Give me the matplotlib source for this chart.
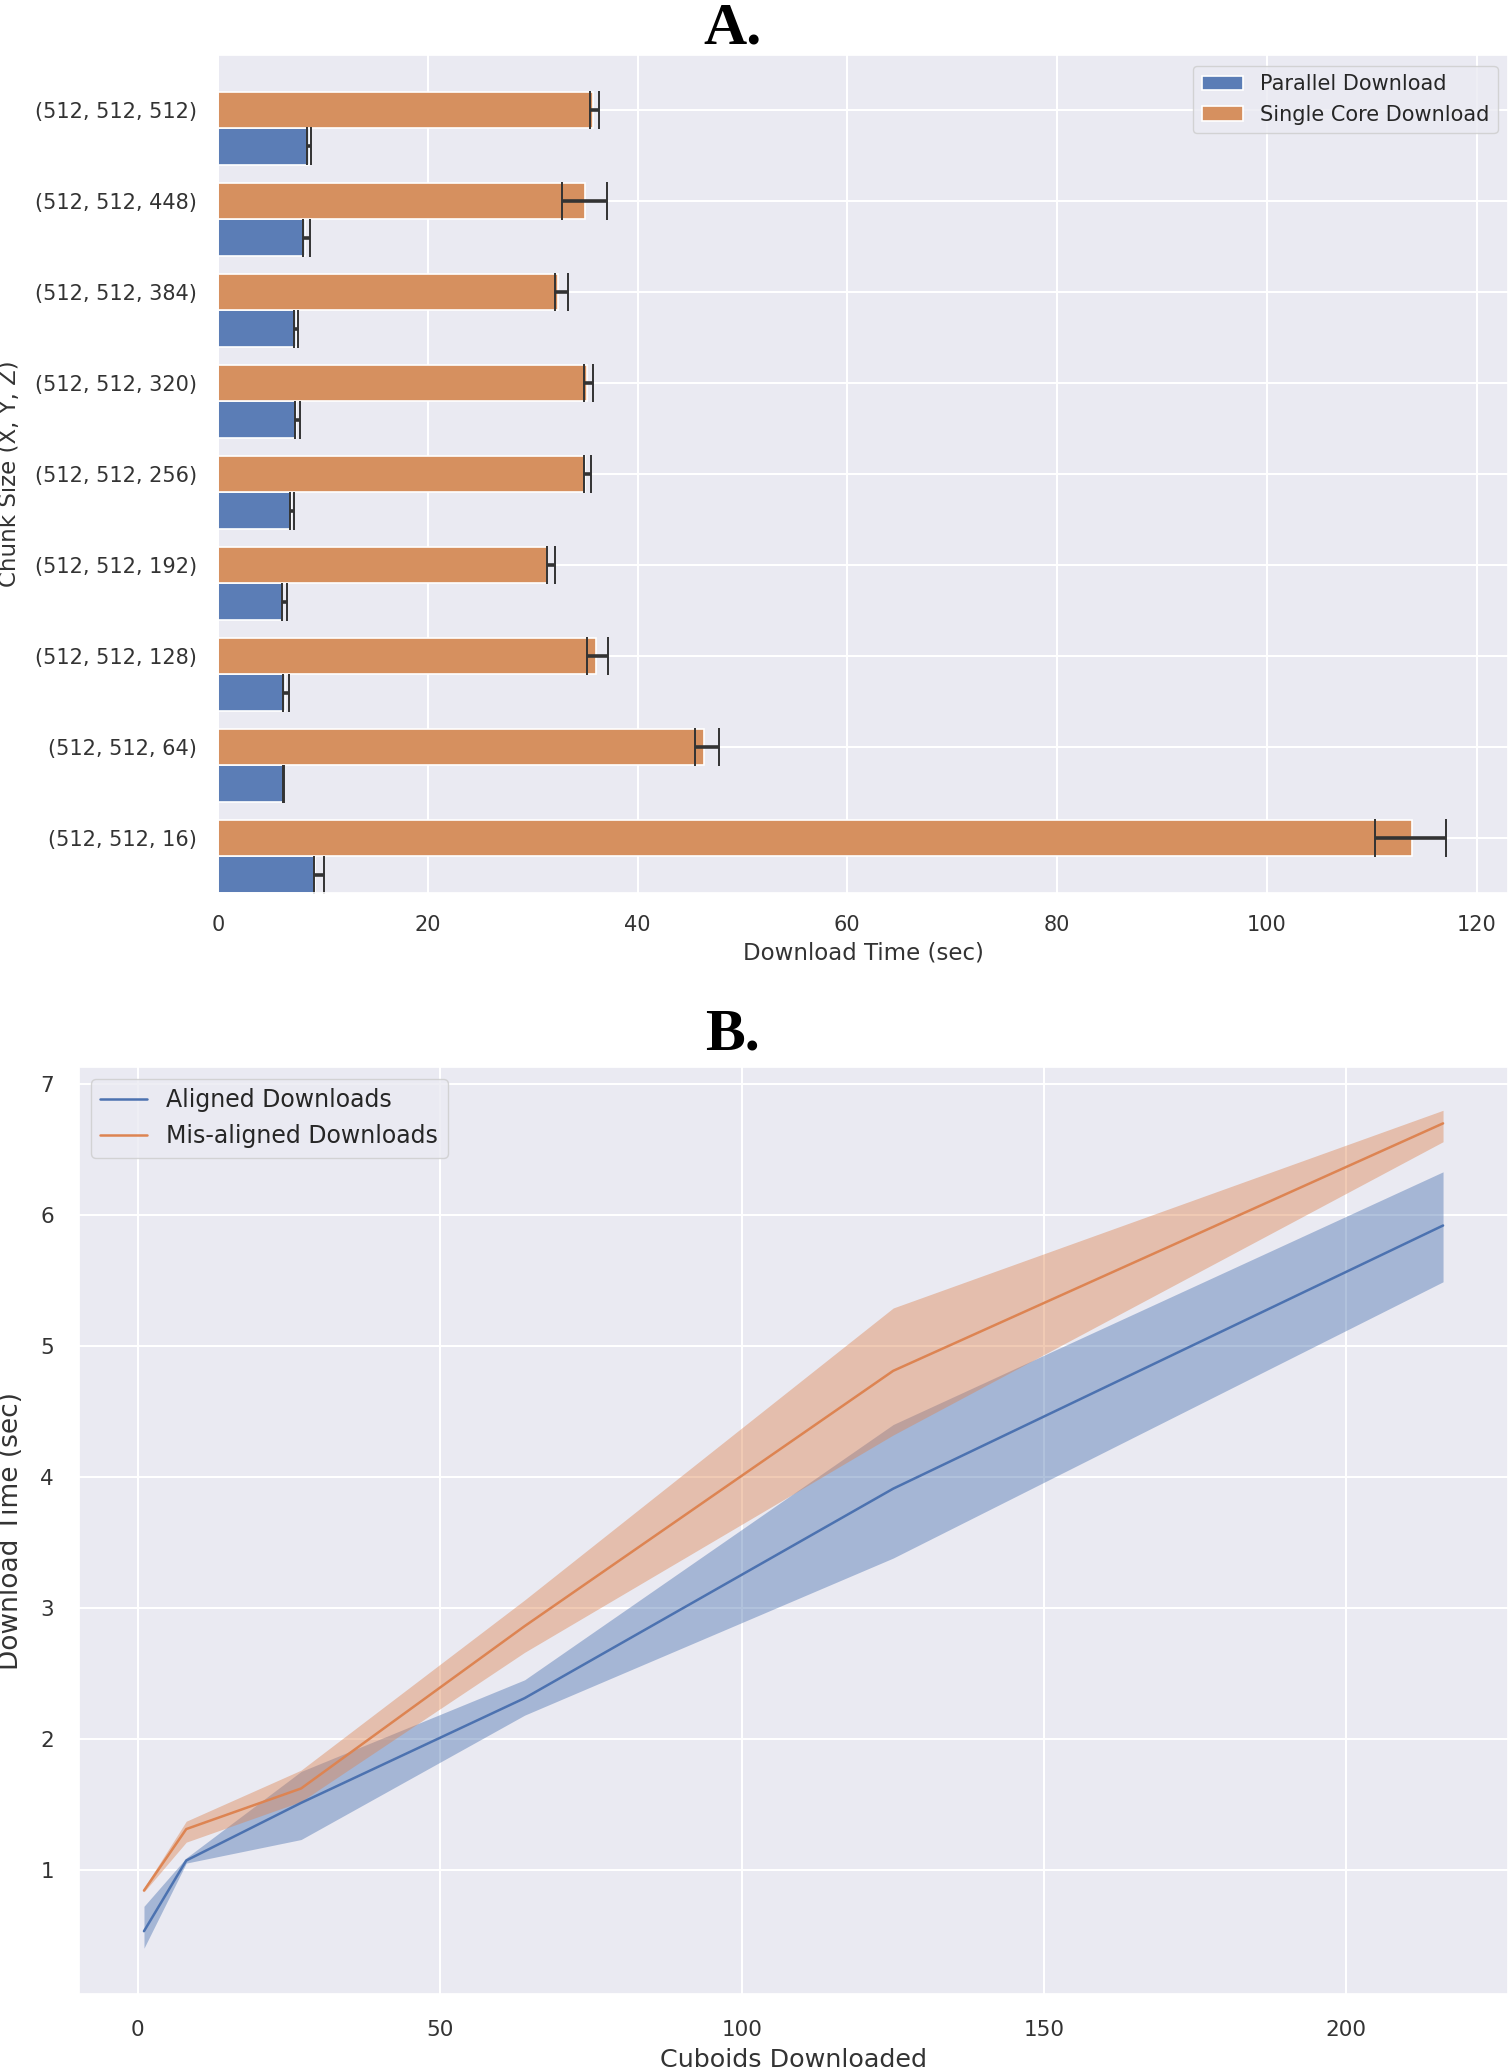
import matplotlib
matplotlib.use("Agg")
import matplotlib.pyplot as plt
import numpy as np
import seaborn as sns

# Panel A : temps de téléchargement par taille de chunk
chunk_labels = ["(512, 512, 512)", "(512, 512, 448)", "(512, 512, 384)",
                "(512, 512, 320)", "(512, 512, 256)", "(512, 512, 192)",
                "(512, 512, 128)", "(512, 512, 64)", "(512, 512, 16)"]
parallel_time = [8.70, 8.33, 7.40, 7.44, 6.98, 6.14, 6.37, 6.28, 9.26]
parallel_lo = [8.51, 8.14, 7.26, 7.35, 6.84, 6.05, 6.23, 6.19, 9.16]
parallel_hi = [8.84, 8.74, 7.63, 7.81, 7.26, 6.60, 6.74, 6.33, 10.09]
single_time = [35.77, 34.98, 32.42, 35.21, 34.98, 31.40, 36.05, 46.37, 113.8]
single_lo = [35.44, 32.79, 32.09, 34.88, 34.88, 31.35, 35.21, 45.44, 110.3]
single_hi = [36.37, 37.07, 33.40, 35.77, 35.58, 32.09, 37.21, 47.81, 117.1]

# Panel B : cuboides alignés / mal alignés
cuboids = [1, 8, 27, 64, 125, 216]
aligned_mean = [0.53, 1.07, 1.51, 2.31, 3.91, 5.92]
aligned_lo = [0.40, 1.05, 1.23, 2.18, 3.38, 5.49]
aligned_hi = [0.72, 1.09, 1.75, 2.45, 4.40, 6.33]
misaligned_mean = [0.84, 1.31, 1.62, 2.86, 4.81, 6.70]
misaligned_lo = [0.83, 1.21, 1.52, 2.66, 4.32, 6.56]
misaligned_hi = [0.86, 1.37, 1.76, 3.06, 5.29, 6.80]

sns.set_theme(style="darkgrid")
plt.rcParams["font.family"] = ["DejaVu Sans"]

BLUE = "#4C72B0"
ORANGE = "#DD8452"
TXT = "#333333"

fig = plt.figure(figsize=(15.08, 20.7), dpi=100)

# ---------- A ----------
axA = fig.add_axes([0.1446, 0.5687, 0.8554, 0.4045])
pos = np.arange(len(chunk_labels))
bar_h = 0.4

par = np.array(parallel_time)
sin = np.array(single_time)
axA.barh(pos + bar_h, par, height=bar_h, color="#5b7db6",
         edgecolor="white", linewidth=1.2, label="Parallel Download")
axA.barh(pos, sin, height=bar_h, color="#d6905f",
         edgecolor="white", linewidth=1.2, label="Single Core Download")

axA.errorbar(par, pos + bar_h,
             xerr=[par - np.array(parallel_lo), np.array(parallel_hi) - par],
             fmt="none", ecolor="#333333", elinewidth=2.6, capsize=14, capthick=1.4)
axA.errorbar(sin, pos,
             xerr=[sin - np.array(single_lo), np.array(single_hi) - sin],
             fmt="none", ecolor="#333333", elinewidth=2.6, capsize=14, capthick=1.4)

axA.set_xlim(0, 123)
axA.set_ylim(8.6, -0.6)
axA.set_yticks(pos)
axA.set_yticklabels(chunk_labels)
axA.set_xticks([0, 20, 40, 60, 80, 100, 120])
axA.tick_params(axis="both", labelsize=15, colors=TXT)
axA.tick_params(axis="y", pad=9)
axA.tick_params(axis="x", pad=10)
axA.grid(True, color="white", linewidth=1.5)
axA.set_axisbelow(True)
axA.set_xlabel("Download Time (sec)", fontsize=16.5, color=TXT)
axA.set_ylabel("Chunk Size (X, Y, Z)", fontsize=16.5, color=TXT)
axA.xaxis.set_label_coords(0.5, -0.0585)
axA.yaxis.set_label_coords(-0.153, 0.5)
axA.legend(loc="upper right", fontsize=15)

# ---------- B ----------
axB = fig.add_axes([0.0524, 0.0367, 0.9476, 0.4478])
axB.fill_between(cuboids, aligned_lo, aligned_hi, color=BLUE, alpha=0.43, linewidth=0)
axB.fill_between(cuboids, misaligned_lo, misaligned_hi, color=ORANGE, alpha=0.43, linewidth=0)
axB.plot(cuboids, aligned_mean, color=BLUE, linewidth=1.8, label="Aligned Downloads")
axB.plot(cuboids, misaligned_mean, color=ORANGE, linewidth=1.8, label="Mis-aligned Downloads")

axB.set_xlim(-9.75, 226.75)
axB.set_ylim(0.05, 7.13)
axB.set_xticks([0, 50, 100, 150, 200])
axB.set_yticks([1, 2, 3, 4, 5, 6, 7])
axB.tick_params(axis="both", labelsize=15.5, colors=TXT)
axB.tick_params(axis="x", pad=13)
axB.tick_params(axis="y", pad=12)
axB.grid(True, color="white", linewidth=1.5)
axB.set_xlabel("Cuboids Downloaded", fontsize=18.3, color=TXT)
axB.set_ylabel("Download Time (sec)", fontsize=19, color=TXT)
axB.xaxis.set_label_coords(0.5, -0.058)
axB.yaxis.set_label_coords(-0.0385, 0.5)
axB.legend(loc="upper left", fontsize=17)

# titres des panneaux
fig.text(0.486, 0.979, "A.", fontsize=43, fontweight="bold",
         family="Liberation Serif", ha="center", va="baseline", color="black")
fig.text(0.486, 0.4928, "B.", fontsize=43, fontweight="bold",
         family="Liberation Serif", ha="center", va="baseline", color="black")

fig.savefig("out.png", dpi=100, facecolor="white")
